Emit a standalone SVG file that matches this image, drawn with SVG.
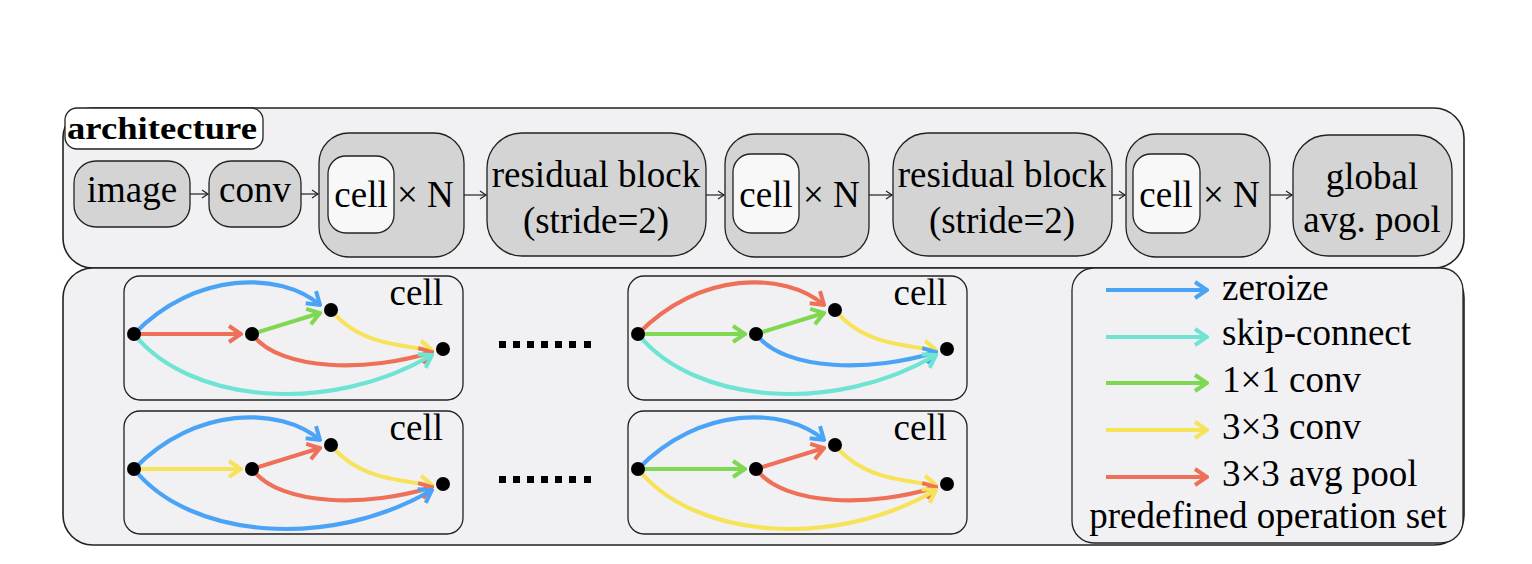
<svg xmlns="http://www.w3.org/2000/svg" width="1532" height="564" viewBox="0 0 1532 564">
<defs>
<style>
.big{fill:#f1f1f4;stroke:#222;stroke-width:1.6}
.nd{fill:#d4d4d4;stroke:#222;stroke-width:1.3}
.inn{fill:#f8f8f8;stroke:#222;stroke-width:1.3}
.cb{fill:#f1f1f4;stroke:#222;stroke-width:1.3}
.k{fill:none;stroke:#222;stroke-width:1.2}
.e{fill:none;stroke-width:4.2}
.bl{stroke:#4ba3f6}.cy{stroke:#6fe4d3}.gr{stroke:#7fd752}.ye{stroke:#f6e35a}.rd{stroke:#ee7059}
</style>
<marker id="ak" viewBox="-8 -5 10 10" refX="0" refY="0" markerWidth="10" markerHeight="10" markerUnits="userSpaceOnUse" orient="auto"><path d="M-6,-4 L0,0 L-6,4" fill="none" stroke="#222" stroke-width="1.2"/></marker>
<marker id="mbl" viewBox="-16 -10 18 20" refX="0" refY="0" markerWidth="18" markerHeight="20" markerUnits="userSpaceOnUse" orient="auto"><path d="M-12,-8 L0,0 L-12,8" fill="none" stroke="#4ba3f6" stroke-width="4"/></marker>
<marker id="mcy" viewBox="-16 -10 18 20" refX="0" refY="0" markerWidth="18" markerHeight="20" markerUnits="userSpaceOnUse" orient="auto"><path d="M-12,-8 L0,0 L-12,8" fill="none" stroke="#6fe4d3" stroke-width="4"/></marker>
<marker id="mgr" viewBox="-16 -10 18 20" refX="0" refY="0" markerWidth="18" markerHeight="20" markerUnits="userSpaceOnUse" orient="auto"><path d="M-12,-8 L0,0 L-12,8" fill="none" stroke="#7fd752" stroke-width="4"/></marker>
<marker id="mye" viewBox="-16 -10 18 20" refX="0" refY="0" markerWidth="18" markerHeight="20" markerUnits="userSpaceOnUse" orient="auto"><path d="M-12,-8 L0,0 L-12,8" fill="none" stroke="#f6e35a" stroke-width="4"/></marker>
<marker id="mrd" viewBox="-16 -10 18 20" refX="0" refY="0" markerWidth="18" markerHeight="20" markerUnits="userSpaceOnUse" orient="auto"><path d="M-12,-8 L0,0 L-12,8" fill="none" stroke="#ee7059" stroke-width="4"/></marker>
</defs>
<rect width="1532" height="564" fill="#ffffff"/>

<g id="architecture-panel">
<rect class="big" x="63" y="108" width="1401" height="160" rx="30"/>
<rect x="65" y="108" width="198" height="41" rx="12" fill="#ffffff" stroke="#222" stroke-width="1.3"/>
<text x="67" y="139" font-family="Liberation Serif" font-size="31" font-weight="bold" textLength="190" lengthAdjust="spacingAndGlyphs">architecture</text>
</g>

<g font-family="Liberation Serif" font-size="37">
<g id="n-image"><rect class="nd" x="74" y="161" width="116" height="66" rx="22"/><text x="132" y="202" text-anchor="middle">image</text></g>
<g id="n-conv"><rect class="nd" x="209" y="161" width="92" height="66" rx="22"/><text x="255" y="202" text-anchor="middle">conv</text></g>
<g id="n-cellN1"><rect class="nd" x="319" y="133" width="145" height="124" rx="30"/><rect class="inn" x="328" y="156" width="66" height="77" rx="18"/><text x="361" y="207" text-anchor="middle">cell</text><text x="397" y="207">× N</text></g>
<g id="n-res1"><rect class="nd" x="487" y="133" width="219" height="123" rx="35"/><text x="596" y="187" text-anchor="middle">residual block</text><text x="596" y="233" text-anchor="middle">(stride=2)</text></g>
<g id="n-cellN2"><rect class="nd" x="725" y="134" width="144" height="123" rx="30"/><rect class="inn" x="733" y="154" width="66" height="79" rx="18"/><text x="766" y="207" text-anchor="middle">cell</text><text x="803" y="207">× N</text></g>
<g id="n-res2"><rect class="nd" x="893" y="133" width="219" height="123" rx="35"/><text x="1002" y="187" text-anchor="middle">residual block</text><text x="1002" y="233" text-anchor="middle">(stride=2)</text></g>
<g id="n-cellN3"><rect class="nd" x="1126" y="134" width="144" height="123" rx="30"/><rect class="inn" x="1133" y="154" width="67" height="79" rx="18"/><text x="1166" y="207" text-anchor="middle">cell</text><text x="1203" y="207">× N</text></g>
<g id="n-gap"><rect class="nd" x="1293" y="135" width="159" height="121" rx="35"/><text x="1372" y="189" text-anchor="middle">global</text><text x="1372" y="232" text-anchor="middle">avg. pool</text></g>
</g>

<g id="arch-connectors">
<path class="k" d="M190,194 L208,194" marker-end="url(#ak)"/>
<path class="k" d="M301,194 L318,194" marker-end="url(#ak)"/>
<path class="k" d="M464,195 L486,195" marker-end="url(#ak)"/>
<path class="k" d="M706,195 L724,195" marker-end="url(#ak)"/>
<path class="k" d="M869,195 L892,195" marker-end="url(#ak)"/>
<path class="k" d="M1112,195 L1125,195" marker-end="url(#ak)"/>
<path class="k" d="M1270,195 L1292,195" marker-end="url(#ak)"/>
</g>

<g id="cells-panel">
<rect class="big" x="63" y="268" width="1401" height="277" rx="30"/>
</g>

<g font-family="Liberation Serif" font-size="37">
<g id="cell-1">
<rect class="cb" x="124" y="276" width="339" height="124" rx="16"/>
<text x="443" y="305" text-anchor="end">cell</text>
<g id="cell-1-edges">
<path class="e bl" d="M134,334 C195,271 280,271 320,305" marker-end="url(#mbl)"/>
<path class="e rd" d="M134,334 L241,334" marker-end="url(#mrd)"/>
<path class="e gr" d="M252,334 L320,313" marker-end="url(#mgr)"/>
<path class="e ye" d="M331,310 C355,340 390,345 432,350" marker-end="url(#mye)"/>
<path class="e rd" d="M252,334 C280,372 370,372 432,352" marker-end="url(#mrd)"/>
<path class="e cy" d="M134,334 C190,404 330,415 432,355" marker-end="url(#mcy)"/>
</g>
<circle cx="134" cy="334" r="7"/><circle cx="252" cy="334" r="7"/><circle cx="331" cy="310" r="7"/><circle cx="443" cy="349" r="7"/>
</g>

<g id="cell-2" transform="translate(0,135)">
<rect class="cb" x="124" y="276" width="339" height="123" rx="16"/>
<text x="443" y="305" text-anchor="end">cell</text>
<g id="cell-2-edges">
<path class="e bl" d="M134,334 C195,271 280,271 320,305" marker-end="url(#mbl)"/>
<path class="e ye" d="M134,334 L241,334" marker-end="url(#mye)"/>
<path class="e rd" d="M252,334 L320,313" marker-end="url(#mrd)"/>
<path class="e ye" d="M331,310 C355,340 390,345 432,350" marker-end="url(#mye)"/>
<path class="e rd" d="M252,334 C280,372 370,372 432,352" marker-end="url(#mrd)"/>
<path class="e bl" d="M134,334 C190,404 330,415 432,355" marker-end="url(#mbl)"/>
</g>
<circle cx="134" cy="334" r="7"/><circle cx="252" cy="334" r="7"/><circle cx="331" cy="310" r="7"/><circle cx="443" cy="349" r="7"/>
</g>

<g id="cell-3" transform="translate(504,0)">
<rect class="cb" x="124" y="276" width="339" height="124" rx="16"/>
<text x="443" y="305" text-anchor="end">cell</text>
<g id="cell-3-edges">
<path class="e rd" d="M134,334 C195,271 280,271 320,305" marker-end="url(#mrd)"/>
<path class="e gr" d="M134,334 L241,334" marker-end="url(#mgr)"/>
<path class="e gr" d="M252,334 L320,313" marker-end="url(#mgr)"/>
<path class="e ye" d="M331,310 C355,340 390,345 432,350" marker-end="url(#mye)"/>
<path class="e bl" d="M252,334 C280,372 370,372 432,352" marker-end="url(#mbl)"/>
<path class="e cy" d="M134,334 C190,404 330,415 432,355" marker-end="url(#mcy)"/>
</g>
<circle cx="134" cy="334" r="7"/><circle cx="252" cy="334" r="7"/><circle cx="331" cy="310" r="7"/><circle cx="443" cy="349" r="7"/>
</g>

<g id="cell-4" transform="translate(504,135)">
<rect class="cb" x="124" y="276" width="339" height="123" rx="16"/>
<text x="443" y="305" text-anchor="end">cell</text>
<g id="cell-4-edges">
<path class="e bl" d="M134,334 C195,271 280,271 320,305" marker-end="url(#mbl)"/>
<path class="e gr" d="M134,334 L241,334" marker-end="url(#mgr)"/>
<path class="e rd" d="M252,334 L320,313" marker-end="url(#mrd)"/>
<path class="e ye" d="M331,310 C355,340 390,345 432,350" marker-end="url(#mye)"/>
<path class="e rd" d="M252,334 C280,372 370,372 432,352" marker-end="url(#mrd)"/>
<path class="e ye" d="M134,334 C190,404 330,415 432,355" marker-end="url(#mye)"/>
</g>
<circle cx="134" cy="334" r="7"/><circle cx="252" cy="334" r="7"/><circle cx="331" cy="310" r="7"/><circle cx="443" cy="349" r="7"/>
</g>
</g>

<g id="dots" fill="#000">
<rect x="499" y="341" width="7" height="7"/><rect x="513" y="341" width="7" height="7"/><rect x="527" y="341" width="7" height="7"/><rect x="541" y="341" width="7" height="7"/><rect x="555" y="341" width="7" height="7"/><rect x="569" y="341" width="7" height="7"/><rect x="584" y="341" width="7" height="7"/>
<rect x="499" y="476" width="7" height="7"/><rect x="513" y="476" width="7" height="7"/><rect x="527" y="476" width="7" height="7"/><rect x="541" y="476" width="7" height="7"/><rect x="555" y="476" width="7" height="7"/><rect x="569" y="476" width="7" height="7"/><rect x="584" y="476" width="7" height="7"/>
</g>

<g id="legend" font-family="Liberation Serif" font-size="37">
<rect class="cb" x="1072" y="268" width="391" height="275" rx="22"/>
<path class="e bl" d="M1106,290 L1207,290" marker-end="url(#mbl)"/>
<path class="e cy" d="M1106,337 L1207,337" marker-end="url(#mcy)"/>
<path class="e gr" d="M1106,383 L1207,383" marker-end="url(#mgr)"/>
<path class="e ye" d="M1106,430 L1207,430" marker-end="url(#mye)"/>
<path class="e rd" d="M1106,477 L1207,477" marker-end="url(#mrd)"/>
<text x="1222" y="300">zeroize</text>
<text x="1222" y="345">skip-connect</text>
<text x="1222" y="392">1×1 conv</text>
<text x="1222" y="439">3×3 conv</text>
<text x="1222" y="486">3×3 avg pool</text>
<text x="1268" y="528" text-anchor="middle">predefined operation set</text>
</g>
</svg>
